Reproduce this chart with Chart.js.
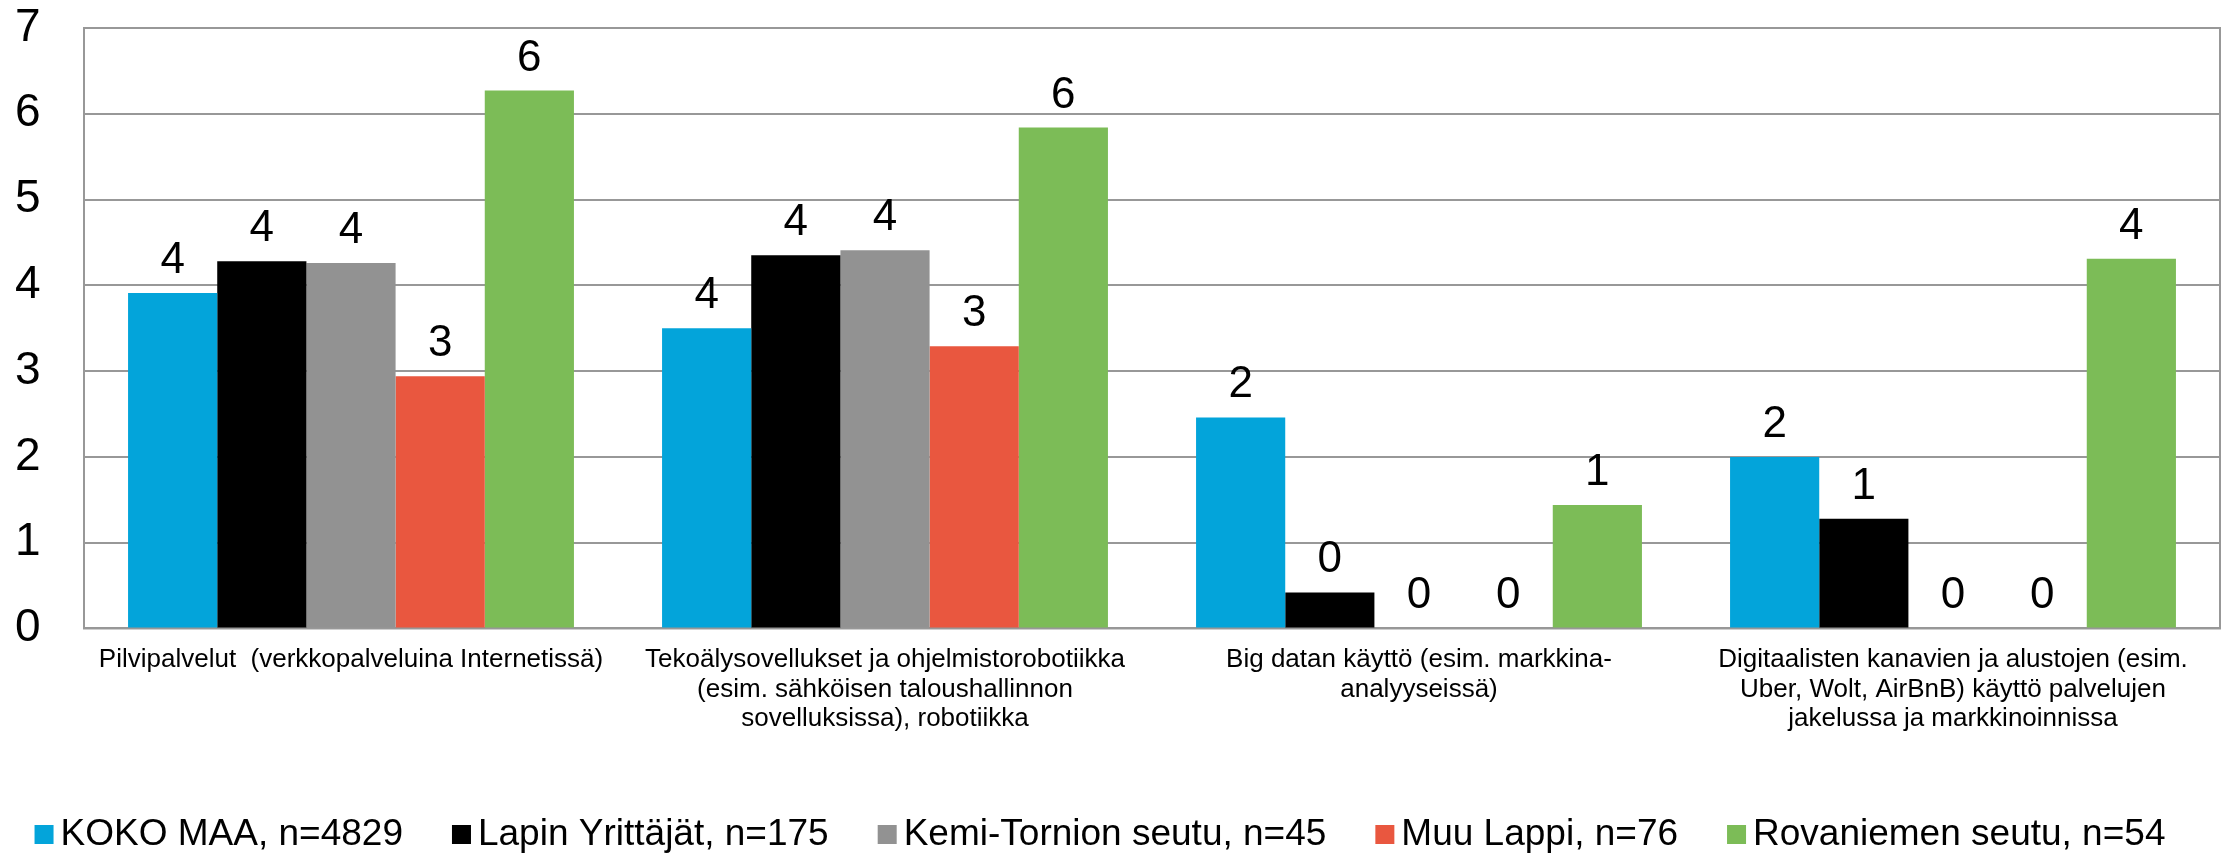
<!DOCTYPE html>
<html lang="fi">
<head>
<meta charset="utf-8">
<title>Digitaalisten ratkaisujen käyttö</title>
<script src="https://cdn.jsdelivr.net/npm/chart.js@4.4.1/dist/chart.umd.min.js"></script>
<style>
  html, body { margin: 0; padding: 0; background: #fff; }
  #wrap { width: 2233px; height: 853px; }
</style>
</head>
<body>
<div id="wrap"><canvas id="chart"></canvas></div>
<script>
const FONT = '"Liberation Sans", Arial, sans-serif';

const categories = [
  ['Pilvipalvelut  (verkkopalveluina Internetissä)'],
  ['Tekoälysovellukset ja ohjelmistorobotiikka', '(esim. sähköisen taloushallinnon', 'sovelluksissa), robotiikka'],
  ['Big datan käyttö (esim. markkina-', 'analyyseissä)'],
  ['Digitaalisten kanavien ja alustojen (esim.', 'Uber, Wolt, AirBnB) käyttö palvelujen', 'jakelussa ja markkinoinnissa'],
];

const seriesNames = [
  'KOKO MAA, n=4829',
  'Lapin Yrittäjät, n=175',
  'Kemi-Tornion seutu, n=45',
  'Muu Lappi, n=76',
  'Rovaniemen seutu, n=54',
];
const seriesColors = ['#03a4da', '#000000', '#929292', '#e9573f', '#7cbc57'];

const kokoMaa = [3.91, 3.5, 2.46, 2.0];
const lapinYrittajat = [4.28, 4.35, 0.42, 1.28];
const kemiTornio = [4.26, 4.41, 0, 0];
const muuLappi = [2.94, 3.29, 0, 0];
const rovaniemi = [6.27, 5.84, 1.44, 4.31];

const yTicks = [0, 1, 2, 3, 4, 5, 6, 7];

const seriesValues = [kokoMaa, lapinYrittajat, kemiTornio, muuLappi, rovaniemi];

// rounded value above every bar, zeros included
const valueLabels = {
  id: 'valueLabels',
  afterDatasetsDraw(chart) {
    const { ctx } = chart;
    ctx.save();
    ctx.font = '44px ' + FONT;
    ctx.fillStyle = '#000';
    ctx.textAlign = 'center';
    ctx.textBaseline = 'alphabetic';
    chart.data.datasets.forEach((ds, i) => {
      chart.getDatasetMeta(i).data.forEach((bar, j) => {
        ctx.fillText(String(Math.round(ds.data[j])), bar.x, bar.y - 20);
      });
    });
    ctx.restore();
  },
};

// closes the plot box on the right side
const plotFrame = {
  id: 'plotFrame',
  beforeDatasetsDraw(chart) {
    const { ctx, chartArea: a } = chart;
    ctx.save();
    ctx.strokeStyle = '#989898';
    ctx.lineWidth = 2;
    ctx.strokeRect(a.left, a.top, a.right - a.left, a.bottom - a.top);
    ctx.restore();
  },
};

// legend in one row, small square then text
const bottomLegend = {
  id: 'bottomLegend',
  afterDraw(chart) {
    const { ctx } = chart;
    const box = 19, gap = 7, spacing = 49, baseline = 845, centerX = 1100;
    ctx.save();
    ctx.font = '37px ' + FONT;
    ctx.textBaseline = 'alphabetic';
    ctx.textAlign = 'left';
    const items = chart.data.datasets.map(ds => ({
      text: ds.label,
      color: ds.backgroundColor,
      w: ctx.measureText(ds.label).width,
    }));
    const total = items.reduce((s, it) => s + box + gap + it.w, 0) + spacing * (items.length - 1);
    let x = centerX - total / 2;
    items.forEach(it => {
      ctx.fillStyle = it.color;
      ctx.fillRect(x, baseline - 20, box, box);
      ctx.fillStyle = '#000';
      ctx.fillText(it.text, x + box + gap, baseline);
      x += box + gap + it.w + spacing;
    });
    ctx.restore();
  },
};

new Chart(document.getElementById('chart'), {
  type: 'bar',
  data: {
    labels: categories,
    datasets: seriesNames.map((name, i) => ({
      label: name,
      data: seriesValues[i],
      backgroundColor: seriesColors[i],
      borderWidth: 0,
      barPercentage: 1,
      categoryPercentage: 0.835,
    })),
  },
  options: {
    responsive: true,
    maintainAspectRatio: false,
    animation: false,
    devicePixelRatio: 1,
    layout: { padding: { top: 28, right: 13, bottom: 102, left: 15 } },
    plugins: {
      legend: { display: false },
      tooltip: { enabled: false },
    },
    scales: {
      x: {
        grid: { display: false, drawTicks: false },
        border: { display: false },
        ticks: {
          color: '#000',
          font: { family: FONT, size: 26, lineHeight: 1.135 },
          padding: 17,
          maxRotation: 0,
          autoSkip: false,
        },
      },
      y: {
        min: 0,
        max: 7,
        afterBuildTicks: scale => {
          scale.ticks = yTicks.map(v => ({ value: v }));
        },
        afterFit: scale => {
          scale.width = 69;
        },
        grid: { color: '#989898', lineWidth: 2, drawTicks: false },
        border: { color: '#989898', width: 2 },
        ticks: {
          color: '#000',
          font: { family: FONT, size: 46 },
          padding: 0,
          crossAlign: 'far',
        },
      },
    },
  },
  plugins: [plotFrame, valueLabels, bottomLegend],
});
</script>
</body>
</html>
